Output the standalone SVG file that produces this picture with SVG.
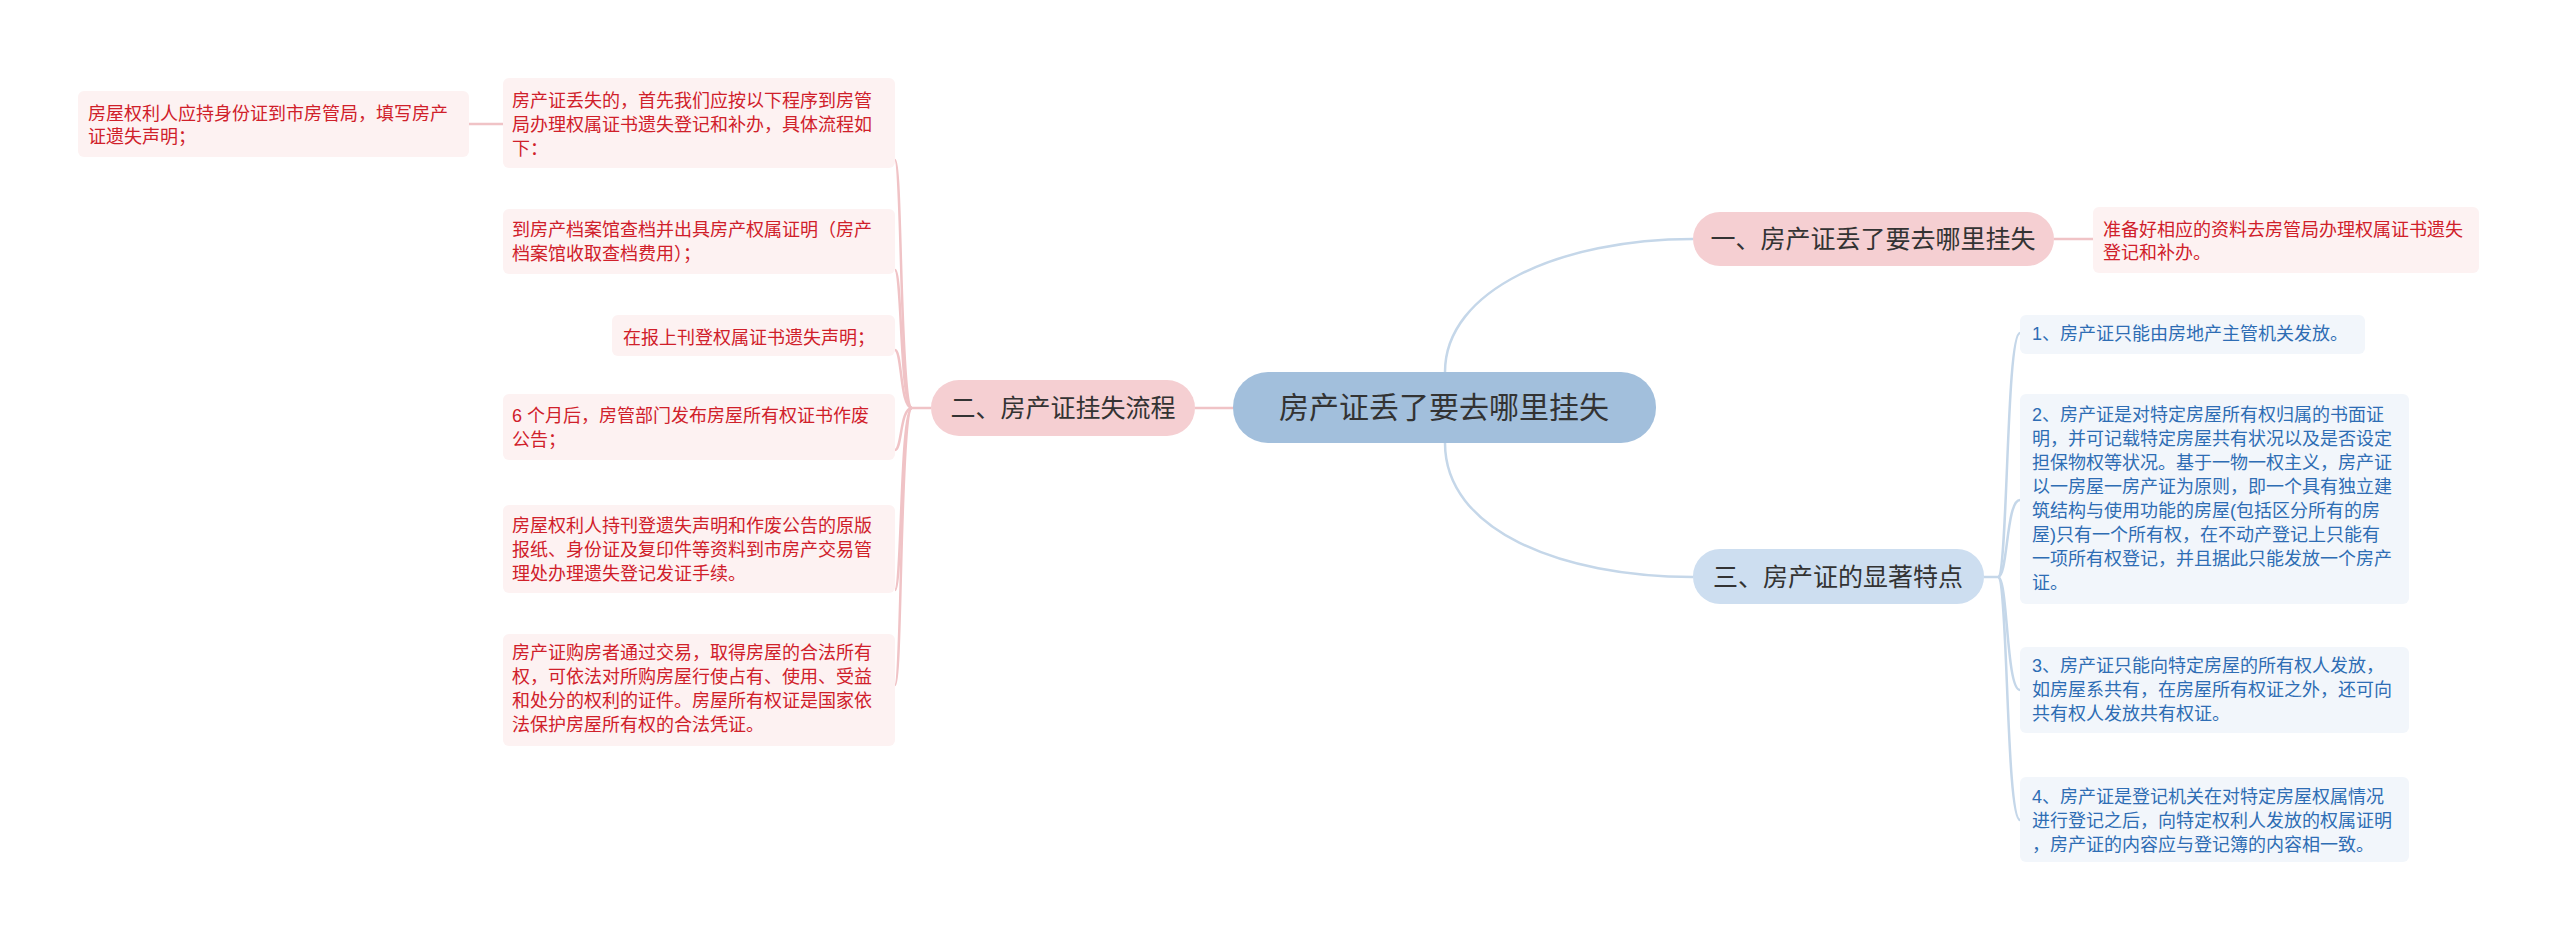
<svg xmlns="http://www.w3.org/2000/svg" width="2560" height="943" viewBox="0 0 2560 943">
<style>
text{font-family:"Liberation Sans","Noto Sans CJK SC",sans-serif}
.lp{fill:#fdf2f2}.lb{fill:#f2f6fb}
.tr{fill:#d0202a;font-size:18px}.tb{fill:#2e6db4;font-size:18px}
.br{font-size:25px;fill:#333}
.cp{fill:none;stroke:#f0c3c6;stroke-width:2.5}.cb{fill:none;stroke:#c5d7e9;stroke-width:2.5}
</style>
<rect width="2560" height="943" fill="#fff"/>
<g id="connectors">
<path class="cb" d="M1445,372 C1445,290 1560,239 1693,239"/>
<path class="cb" d="M1445,443 C1445,530 1560,577 1693,577"/>
<path class="cp" d="M2054,239 L2093,239"/>
<path class="cp" d="M1233,408 L1195,408"/>
<path class="cb" d="M1984,577 L1998,577 C2008,577 2006,333 2020,333"/>
<path class="cb" d="M1998,577 C2008,577 2006,500 2020,500"/>
<path class="cb" d="M1998,577 C2008,577 2006,690 2020,690"/>
<path class="cb" d="M1998,577 C2008,577 2006,820 2020,820"/>
<path class="cp" d="M931,408 L912,408 C900,408 902,160 895,160"/>
<path class="cp" d="M912,408 C900,408 902,270 895,270"/>
<path class="cp" d="M912,408 C900,408 902,350 895,350"/>
<path class="cp" d="M912,408 C900,408 902,450 895,450"/>
<path class="cp" d="M912,408 C900,408 902,590 895,590"/>
<path class="cp" d="M912,408 C900,408 902,685 895,685"/>
<path class="cp" d="M503,124 L469,124"/>
</g>
<g id="center"><rect x="1233" y="372" width="423" height="71" rx="35" fill="#a2bfdc"/><text x="1444" y="418" font-size="30" fill="#333" text-anchor="middle">房产证丢了要去哪里挂失</text></g>
<g id="b1"><rect x="1693" y="212" width="361" height="54" rx="27" fill="#f5cfd2"/><text class="br" x="1873" y="248" text-anchor="middle">一、房产证丢了要去哪里挂失</text></g>
<g id="b1l"><rect class="lp" x="2093" y="207" width="386" height="66" rx="6"/><text class="tr" x="2103" y="236">准备好相应的资料去房管局办理权属证书遗失</text><text class="tr" x="2103" y="259">登记和补办。</text></g>
<g id="b3"><rect x="1693" y="549" width="291" height="55" rx="27" fill="#cddef0"/><text class="br" x="1838" y="586" text-anchor="middle">三、房产证的显著特点</text></g>
<g id="b3l1"><rect class="lb" x="2020" y="315" width="345" height="39" rx="6"/><text class="tb" x="2032" y="340">1、房产证只能由房地产主管机关发放。</text></g>
<g id="b3l2"><rect class="lb" x="2020" y="394" width="389" height="210" rx="6"/><text class="tb" x="2032" y="421"><tspan x="2032">2、房产证是对特定房屋所有权归属的书面证</tspan><tspan x="2032" dy="24">明，并可记载特定房屋共有状况以及是否设定</tspan><tspan x="2032" dy="24">担保物权等状况。基于一物一权主义，房产证</tspan><tspan x="2032" dy="24">以一房屋一房产证为原则，即一个具有独立建</tspan><tspan x="2032" dy="24">筑结构与使用功能的房屋(包括区分所有的房</tspan><tspan x="2032" dy="24">屋)只有一个所有权，在不动产登记上只能有</tspan><tspan x="2032" dy="24">一项所有权登记，并且据此只能发放一个房产</tspan><tspan x="2032" dy="24">证。</tspan></text></g>
<g id="b3l3"><rect class="lb" x="2020" y="647" width="389" height="86" rx="6"/><text class="tb" x="2032" y="672"><tspan x="2032">3、房产证只能向特定房屋的所有权人发放，</tspan><tspan x="2032" dy="24">如房屋系共有，在房屋所有权证之外，还可向</tspan><tspan x="2032" dy="24">共有权人发放共有权证。</tspan></text></g>
<g id="b3l4"><rect class="lb" x="2020" y="777" width="389" height="85" rx="6"/><text class="tb" x="2032" y="803"><tspan x="2032">4、房产证是登记机关在对特定房屋权属情况</tspan><tspan x="2032" dy="24">进行登记之后，向特定权利人发放的权属证明</tspan><tspan x="2032" dy="24">，房产证的内容应与登记簿的内容相一致。</tspan></text></g>
<g id="b2"><rect x="931" y="380" width="264" height="56" rx="28" fill="#f5cfd2"/><text class="br" x="1063" y="417" text-anchor="middle">二、房产证挂失流程</text></g>
<g id="l0"><rect class="lp" x="78" y="91" width="391" height="66" rx="6"/><text class="tr" x="88" y="120"><tspan x="88">房屋权利人应持身份证到市房管局，填写房产</tspan><tspan x="88" dy="23">证遗失声明；</tspan></text></g>
<g id="l1"><rect class="lp" x="503" y="78" width="392" height="90" rx="6"/><text class="tr" x="512" y="107"><tspan x="512">房产证丢失的，首先我们应按以下程序到房管</tspan><tspan x="512" dy="24">局办理权属证书遗失登记和补办，具体流程如</tspan><tspan x="512" dy="24">下：</tspan></text></g>
<g id="l2"><rect class="lp" x="503" y="209" width="392" height="65" rx="6"/><text class="tr" x="512" y="236"><tspan x="512">到房产档案馆查档并出具房产权属证明（房产</tspan><tspan x="512" dy="24">档案馆收取查档费用）；</tspan></text></g>
<g id="l3"><rect class="lp" x="612" y="315" width="283" height="41" rx="6"/><text class="tr" x="623" y="344">在报上刊登权属证书遗失声明；</text></g>
<g id="l4"><rect class="lp" x="503" y="394" width="392" height="66" rx="6"/><text class="tr" x="512" y="422"><tspan x="512"> 6 个月后，房管部门发布房屋所有权证书作废</tspan><tspan x="512" dy="24">公告；</tspan></text></g>
<g id="l5"><rect class="lp" x="503" y="505" width="392" height="88" rx="6"/><text class="tr" x="512" y="532"><tspan x="512">房屋权利人持刊登遗失声明和作废公告的原版</tspan><tspan x="512" dy="24">报纸、身份证及复印件等资料到市房产交易管</tspan><tspan x="512" dy="24">理处办理遗失登记发证手续。</tspan></text></g>
<g id="l6"><rect class="lp" x="503" y="634" width="392" height="112" rx="6"/><text class="tr" x="512" y="659"><tspan x="512">房产证购房者通过交易，取得房屋的合法所有</tspan><tspan x="512" dy="24">权，可依法对所购房屋行使占有、使用、受益</tspan><tspan x="512" dy="24">和处分的权利的证件。房屋所有权证是国家依</tspan><tspan x="512" dy="24">法保护房屋所有权的合法凭证。</tspan></text></g>
</svg>
